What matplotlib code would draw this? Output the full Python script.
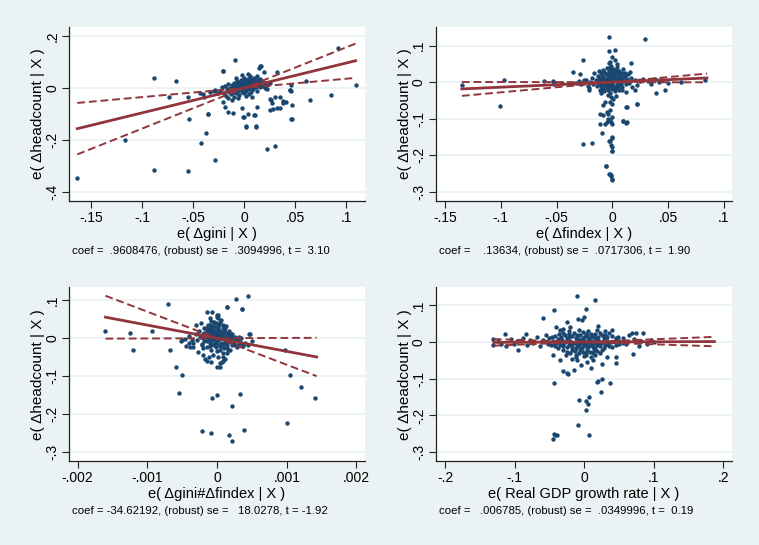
import numpy as np
import matplotlib
matplotlib.use("Agg")
import matplotlib.pyplot as plt

plt.rcParams['font.family'] = ['Liberation Sans', 'DejaVu Sans']

BG = '#eaf2f3'
DOT = '#1a476f'
LINE = '#90353b'

# ---- panel 1: gini ----
gini_x = [-0.1635, -0.117, -0.0884, -0.0884, -0.067, -0.074, -0.055, -0.054, -0.0555, -0.042,
          -0.037, -0.036, -0.029, -0.039, -0.021, -0.009, 0.002, 0.011, 0.010, 0.000,
          0.022, 0.030, 0.015, 0.0196, 0.032, 0.026, 0.028, 0.032, 0.038, 0.041,
          0.045, 0.046, 0.047, 0.047, 0.060, 0.064, 0.085, 0.092, 0.109, 0.046,
          0.012, 0.022, -0.0206, -0.0189, -0.0157, -0.0114, -0.002, -0.001, 0.0039, 0.0105,
          0.0017, 0.0112, 0.0268, 0.0252, 0.035, 0.038, -0.0358, 0.046, 0.0447, 0.030,
          0.025, 0.035, -0.0336, -0.0287, -0.040, -0.043, 0.0164, 0.0144, -0.0212,
          -0.024, -0.022, -0.020, -0.019, -0.018, -0.017, -0.016, -0.015, -0.014, -0.013,
          -0.012, -0.011, -0.010, -0.010, -0.009, -0.008, -0.008, -0.007, -0.006, -0.006,
          -0.005, -0.005, -0.004, -0.004, -0.003, -0.003, -0.002, -0.002, -0.001, -0.001,
          0.000, 0.000, 0.000, 0.001, 0.001, 0.002, 0.002, 0.003, 0.003, 0.004,
          0.004, 0.005, 0.005, 0.006, 0.006, 0.007, 0.007, 0.008, 0.008, 0.009,
          0.009, 0.010, 0.010, 0.011, 0.011, 0.012, 0.012, 0.013, 0.014, 0.015,
          0.015, 0.016, 0.017, 0.018, 0.019, 0.020, 0.022, -0.016, -0.012, -0.006,
          0.002, 0.005, -0.002, 0.004, -0.008, 0.012, -0.026, -0.030, 0.025, 0.008,
          -0.009, -0.007, -0.005, -0.003, -0.001, 0.001, 0.003, 0.005, 0.007, 0.009,
          0.011, 0.013, -0.011, -0.013, -0.015, -0.007, -0.004, 0.000, 0.002, 0.004,
          0.006, 0.008, 0.010, 0.012, 0.014, 0.016, -0.002, 0.000, 0.002, 0.004,
          0.006, 0.008, -0.012, -0.008, -0.006, -0.010, 0.001, 0.003, 0.007, 0.011]
gini_y = [-0.347, -0.2016, 0.040, -0.317, 0.027, -0.036, -0.036, -0.121, -0.320, -0.212,
          -0.172, -0.099, -0.279, -0.035, 0.065, 0.107, -0.148, -0.148, -0.103, -0.114,
          -0.234, -0.223, 0.086, 0.062, 0.062, -0.047, -0.083, -0.076, -0.050, -0.056,
          -0.009, -0.012, -0.067, -0.118, 0.026, -0.047, -0.027, 0.154, 0.010, 0.013,
          -0.073, -0.003, -0.054, -0.073, -0.092, -0.096, -0.079, -0.112, -0.099, -0.105,
          -0.150, -0.150, -0.060, -0.086, -0.079, -0.060, -0.099, -0.118, -0.009, -0.035,
          -0.041, -0.035, -0.015, -0.009, -0.022, -0.019, 0.085, 0.075, 0.065,
          -0.012, 0.002, -0.020, 0.008, -0.030, -0.005, 0.015, -0.015, 0.000, -0.025,
          0.010, -0.008, 0.020, -0.035, -0.002, 0.012, -0.018, 0.028, 0.004, -0.010,
          0.018, -0.028, 0.008, -0.004, 0.032, 0.014, -0.014, 0.002, 0.022, -0.006,
          0.010, 0.040, -0.020, 0.016, 0.000, 0.028, -0.010, 0.006, 0.020, 0.035,
          -0.004, 0.012, 0.024, 0.000, 0.045, 0.018, -0.015, 0.008, 0.030, 0.015,
          -0.005, 0.025, 0.038, 0.004, 0.018, 0.030, -0.012, 0.012, 0.022, 0.035,
          0.005, 0.015, 0.028, 0.008, 0.020, -0.002, 0.012, -0.040, -0.045, -0.040,
          -0.030, -0.025, 0.050, 0.055, 0.040, 0.045, -0.020, -0.010, 0.020, -0.035,
          0.006, -0.002, 0.010, 0.000, 0.008, 0.006, 0.012, 0.004, 0.010, 0.022,
          0.012, 0.026, 0.002, -0.010, -0.004, 0.016, 0.024, 0.018, 0.014, 0.020,
          0.016, 0.024, 0.014, 0.020, 0.010, 0.024, -0.004, -0.008, 0.004, 0.010,
          0.008, 0.002, -0.018, -0.008, 0.012, 0.012, 0.030, 0.030, 0.034, 0.028]

# ---- panel 2: findex ----
findex_x = [-0.135, -0.097, -0.101, -0.061, -0.053, -0.0527, -0.045, -0.038, -0.033, -0.035,
            -0.026, -0.003, 0.029, 0.002, -0.003, 0.017, -0.029, -0.024, -0.021, -0.021,
            -0.026, -0.006, -0.003, -0.0015, -0.0006, -0.0003, 0.000, -0.002, -0.0006,
            0.022, 0.012, 0.010, 0.013, 0.047, 0.039, 0.062, 0.083,
            -0.0066, -0.0021, -0.0005, -0.0081, -0.011, -0.0081, -0.005, -0.0036, -0.0021, -0.0005,
            -0.0036, -0.0021, -0.005, -0.0014, -0.011, -0.0066, -0.0005, 0.0099, 0.012, 0.0129,
            0.0219, -0.009, -0.0005, -0.003, -0.0014, -0.0005, -0.006, -0.002, -0.0014, -0.0005, -0.0185,
            -0.015, -0.014, -0.013, -0.012, -0.011, -0.011, -0.010, -0.009, -0.009, -0.008,
            -0.008, -0.007, -0.007, -0.006, -0.006, -0.005, -0.005, -0.004, -0.004, -0.003,
            -0.003, -0.002, -0.002, -0.002, -0.001, -0.001, 0.000, 0.000, 0.000, 0.001,
            0.001, 0.001, 0.002, 0.002, 0.002, 0.003, 0.003, 0.004, 0.004, 0.005,
            0.005, 0.006, 0.006, 0.007, 0.007, 0.008, 0.009, 0.009, 0.010, 0.011,
            0.012, 0.013, 0.014, 0.015, 0.017, 0.018, -0.017, -0.018, -0.020, 0.020,
            0.022, 0.025, 0.028, 0.032, 0.035, 0.038, 0.042, 0.045, 0.050, -0.022,
            -0.025, -0.028, -0.030, -0.003, 0.000, -0.001, 0.001, -0.004, 0.003, -0.002,
            0.004, -0.012, 0.010, -0.010, 0.012, 0.016, 0.020, -0.016,
            -0.010, -0.008, -0.006, -0.004, -0.002, 0.000, 0.002, 0.004, 0.006, 0.008,
            0.010, -0.009, -0.007, -0.005, -0.003, -0.001, 0.001, 0.003, 0.005, 0.007,
            -0.010, -0.008, -0.006, -0.004, -0.002, 0.000, 0.002, 0.004, 0.006, 0.008,
            -0.001, 0.001, 0.003, -0.003, 0.011, -0.012, 0.013, -0.014, 0.009, -0.011]
findex_y = [-0.009, 0.006, -0.066, 0.002, 0.003, -0.005, -0.002, -0.005, -0.003, 0.027,
            0.061, 0.125, 0.118, 0.089, 0.086, 0.052, 0.023, 0.005, -0.015, -0.021,
            -0.168, -0.230, -0.250, -0.254, -0.265, -0.189, -0.177, -0.162, -0.150,
            -0.061, -0.068, -0.106, -0.109, -0.021, -0.030, 0.000, 0.007,
            -0.054, -0.054, -0.059, -0.063, -0.086, -0.091, -0.082, -0.086, -0.077, -0.095,
            -0.100, -0.104, -0.109, -0.109, -0.113, -0.113, -0.113, -0.106, -0.112, -0.068,
            -0.059, -0.138, -0.153, -0.161, -0.171, -0.189, -0.229, -0.252, -0.256, -0.268, -0.166,
            0.005, -0.010, 0.018, -0.002, 0.010, -0.020, 0.026, 0.002, -0.012, 0.015,
            0.034, -0.005, -0.025, 0.008, 0.022, -0.015, 0.040, 0.000, 0.014, 0.030,
            -0.008, 0.006, -0.030, 0.020, 0.045, -0.002, 0.012, 0.028, -0.018, 0.004,
            0.036, -0.010, 0.018, 0.060, -0.025, 0.008, 0.025, -0.004, 0.042, 0.014,
            -0.016, 0.002, 0.030, 0.020, -0.008, 0.010, -0.022, 0.026, 0.004, 0.016,
            -0.006, 0.008, 0.022, -0.002, 0.012, -0.012, -0.005, 0.012, 0.000, 0.005,
            -0.008, 0.002, 0.010, 0.004, -0.004, 0.008, 0.000, 0.006, -0.002, -0.010,
            0.006, -0.004, 0.002, 0.052, 0.068, -0.040, -0.045, -0.035, -0.038, 0.055,
            0.050, 0.030, 0.035, -0.030, -0.028, 0.028, -0.020, 0.025,
            0.000, 0.006, -0.002, 0.006, 0.012, 0.004, 0.008, 0.002, 0.010, 0.018,
            0.012, 0.018, 0.028, 0.022, 0.016, 0.024, 0.020, 0.014, 0.026, 0.004,
            -0.010, -0.018, -0.010, -0.020, -0.012, -0.006, -0.016, -0.010, -0.020, -0.004,
            0.034, 0.028, 0.034, 0.040, 0.024, 0.008, 0.000, 0.002, -0.014, -0.004]

# ---- panel 3: gini#findex ----
inter_x = [-0.0016, -0.00125, -0.00121, -0.00093, -0.0007, -0.00067, -0.00059, -0.0005, -0.00054, -0.0005,
           -0.00022, -0.00009, -0.00007, 0.0, 0.00017, 0.00022, 0.00039, 0.00021, 0.00033, 0.00027,
           0.00044, 0.00036, 0.00015, 0.00046, 0.00098, 0.00105, 0.00101, 0.0012, 0.00141,
           0.00015, 0.00036, -0.00015, -0.00007, 0.0, 0.00001, -0.00023, -0.0003, -0.0001, -0.00005,
           0.00047, -0.00046, -0.00051, -0.00036, -0.0004, -0.00034, -0.00039, -0.00022, -0.0002, -0.00027,
           -0.0002, -0.00017, -0.00012, -0.00015, -0.00008, 0.0, 0.00004, 0.00007, 0.00009, 0.00014,
           0.00019, 0.00026, 0.00028, 0.00033, 0.00023, 0.00038, 0.00031,
           -0.0003, -0.00028, -0.00026, -0.00024, -0.00022, -0.0002, -0.00019, -0.00018, -0.00016, -0.00015,
           -0.00014, -0.00013, -0.00012, -0.00011, -0.0001, -0.00009, -0.00008, -0.00008, -0.00007, -0.00006,
           -0.00005, -0.00004, -0.00004, -0.00003, -0.00002, -0.00002, -0.00001, 0.0, 0.0, 0.0,
           0.00001, 0.00002, 0.00002, 0.00003, 0.00004, 0.00004, 0.00005, 0.00006, 0.00007, 0.00008,
           0.00008, 0.00009, 0.0001, 0.00011, 0.00012, 0.00013, 0.00014, 0.00015, 0.00016, 0.00017,
           0.00018, 0.0002, 0.00021, 0.00022, 0.00024, 0.00026, 0.00028, 0.0003, 0.00032, 0.00035,
           0.00038, 0.0004, 0.00045, 0.0005, -0.00035, -0.0004, -0.00045, 0.00002, -0.00006, 0.00006,
           -0.0001, 0.00012, 0.00004, 0.00008,
           -0.00012, -0.0001, -0.00008, -0.00006, -0.00004, -0.00002, 0.0, 0.00002, 0.00004, 0.00006,
           0.00008, 0.0001, 0.00012, 0.00014, 0.00016, 0.00018, -0.00014, -0.0001, -0.00006, -0.00002,
           0.0, 0.00004, 0.00006, 0.0001, 0.00014, -0.00008, -0.00004, 0.0, 0.00004, 0.00008,
           -0.00016, 0.00012, 0.0002, 0.00024, -0.0002, -0.00018, 0.00016, -0.00012, 0.00002, 0.00022]
inter_y = [0.019, 0.014, -0.030, 0.018, 0.089, -0.030, -0.075, -0.096, -0.145, -0.006,
           -0.245, -0.250, -0.157, -0.151, -0.255, -0.271, -0.243, -0.178, -0.148, 0.104,
           0.110, 0.077, 0.082, 0.010, -0.030, -0.098, -0.224, -0.129, -0.157,
           0.083, 0.077, 0.069, 0.069, 0.061, 0.052, 0.039, 0.034, 0.034, 0.043,
           0.010, -0.003, -0.007, -0.005, -0.012, -0.023, -0.023, -0.018, -0.027, -0.036,
           -0.045, -0.054, -0.049, -0.061, -0.063, -0.076, -0.076, -0.063, -0.049, -0.040,
           -0.032, -0.018, -0.005, -0.010, -0.001, -0.014, 0.003,
           0.010, -0.005, 0.020, 0.002, -0.015, 0.012, 0.028, -0.008, 0.004, 0.018,
           -0.022, 0.035, 0.000, 0.010, -0.012, 0.024, 0.045, -0.030, 0.006, 0.016,
           -0.004, 0.030, -0.018, 0.008, 0.040, -0.010, 0.020, 0.002, -0.035, 0.055,
           0.014, -0.006, 0.028, 0.036, -0.020, 0.008, 0.018, -0.012, 0.000, 0.026,
           -0.040, 0.010, -0.025, 0.016, -0.004, 0.032, -0.015, 0.006, -0.030, 0.020,
           -0.008, 0.002, -0.018, 0.012, -0.010, 0.004, -0.022, -0.006, -0.014, 0.000,
           -0.020, -0.012, -0.018, -0.008, -0.012, 0.005, -0.020, -0.050, -0.045, 0.048,
           0.052, -0.055, -0.065, -0.060,
           0.004, 0.018, -0.006, 0.010, 0.020, 0.002, 0.012, 0.022, 0.000, 0.014,
           0.006, 0.020, -0.010, 0.004, 0.012, 0.000, -0.008, -0.020, -0.014, -0.024,
           -0.014, -0.030, -0.020, -0.014, -0.022, 0.032, 0.040, 0.030, 0.044, 0.036,
           0.026, 0.028, 0.010, 0.000, 0.000, 0.014, -0.004, 0.024, 0.060, -0.004]

# ---- panel 4: real GDP growth ----
gdp_x = [-0.131, -0.131, -0.114, -0.113, -0.095, -0.084, -0.060, -0.044, -0.010, 0.015,
         0.003, 0.000, -0.009, -0.004, -0.025, -0.040, -0.045, -0.044, -0.030, -0.025,
         -0.023, -0.0072, 0.003, 0.006, 0.007, 0.002, -0.0086, 0.007, -0.0455, -0.042,
         -0.039, -0.0436, 0.0235, 0.037, 0.025, 0.020, 0.018, 0.046, 0.070, 0.068,
         0.075, 0.085, -0.124, -0.120, -0.106, -0.101, -0.097, -0.088, -0.083, -0.078,
         -0.073, -0.068, -0.064, -0.060, -0.055, -0.052, 0.055, 0.060, 0.064, 0.072,
         0.078, 0.082, 0.090, 0.096, 0.100, -0.010, -0.005, 0.004, 0.010, -0.018,
         -0.015, 0.012, 0.026, 0.032, -0.030, -0.035, 0.040, 0.045, -0.020, 0.020,
         -0.030, -0.015, -0.002, 0.010, 0.022, 0.035,
         -0.042, -0.028, -0.018, -0.006, 0.004, 0.014, 0.026, 0.040,
         -0.050, -0.038, -0.025, -0.012, -0.003, 0.006, 0.016, 0.028, 0.045,
         -0.045, -0.032, -0.020, -0.008, 0.000, 0.010, 0.020, 0.032, 0.050,
         -0.040, -0.028, -0.015, -0.005, 0.004, 0.014, 0.024, 0.038, 0.055,
         -0.048, -0.035, -0.022, -0.010, 0.000, 0.008, 0.018, 0.030, 0.045,
         -0.038, -0.025, -0.012, -0.004, 0.006, 0.016, 0.028, 0.040,
         -0.030, -0.018, -0.006, 0.004, 0.014, 0.025,
         -0.020, -0.008, 0.002, 0.012, 0.022, -0.012, 0.000, 0.010,
         -0.035, -0.022, -0.008, 0.006, 0.018, 0.030, -0.026, -0.012, 0.002, 0.016,
         -0.046, -0.034, -0.022, -0.010, 0.000, 0.009, 0.020, 0.033, 0.048,
         -0.052, -0.036, -0.024, -0.012, -0.002, 0.007, 0.017, 0.027, 0.044, 0.060,
         -0.044, -0.031, -0.019, -0.008, 0.002, 0.011, 0.021, 0.034, 0.050,
         -0.042, -0.030, -0.017, -0.007, 0.003, 0.012, 0.023, 0.035,
         -0.025, -0.013, -0.002, 0.008, 0.018,
         -0.036, -0.022, -0.010, 0.002, 0.016, 0.030]
gdp_y = [0.009, -0.009, 0.021, -0.011, -0.023, 0.021, 0.065, 0.086, 0.125, 0.114,
         0.091, 0.068, 0.064, 0.061, 0.055, 0.041, -0.036, -0.112, -0.080, -0.084,
         -0.086, -0.157, -0.162, -0.168, -0.150, -0.186, -0.227, -0.253, -0.264, -0.252,
         -0.252, -0.250, -0.135, -0.112, -0.100, -0.105, -0.109, -0.056, -0.032, 0.025,
         0.024, 0.026, 0.004, -0.006, 0.008, -0.004, 0.002, 0.012, -0.008, 0.005,
         -0.003, 0.015, -0.012, 0.006, 0.018, -0.006, 0.012, -0.005, 0.020, 0.008,
         -0.010, 0.004, -0.004, 0.006, 0.000, -0.050, -0.062, -0.055, -0.070, -0.045,
         -0.075, -0.048, -0.060, -0.042, 0.035, -0.050, 0.032, -0.040, 0.040, 0.045,
         0.026, 0.024, 0.027, 0.023, 0.026, 0.024,
         0.017, 0.019, 0.016, 0.018, 0.020, 0.017, 0.019, 0.016,
         0.011, 0.009, 0.012, 0.010, 0.008, 0.011, 0.009, 0.012, 0.010,
         0.004, 0.005, 0.003, 0.005, 0.004, 0.003, 0.005, 0.004, 0.003,
         -0.002, -0.001, -0.003, -0.002, -0.001, -0.003, -0.002, -0.001, -0.002,
         -0.008, -0.007, -0.009, -0.008, -0.007, -0.009, -0.008, -0.007, -0.009,
         -0.015, -0.014, -0.016, -0.015, -0.014, -0.016, -0.015, -0.014,
         -0.022, -0.021, -0.023, -0.022, -0.021, -0.023,
         -0.030, -0.029, -0.031, -0.030, -0.029, -0.040, -0.039, -0.041,
         0.032, 0.031, 0.033, 0.031, 0.032, 0.030, -0.036, -0.035, -0.034, -0.036,
         0.014, 0.015, 0.013, 0.014, 0.015, 0.013, 0.014, 0.015, 0.013,
         0.001, 0.000, 0.002, 0.001, 0.000, 0.002, 0.001, 0.000, 0.002, 0.001,
         -0.005, -0.004, -0.006, -0.005, -0.004, -0.006, -0.005, -0.004, -0.006,
         -0.012, -0.011, -0.013, -0.012, -0.011, -0.013, -0.012, -0.011,
         -0.026, -0.025, -0.027, -0.026, -0.025,
         0.021, 0.022, 0.020, 0.021, 0.022, 0.020]

# fitted slopes (coef, lower, upper) and x-extent of the fit lines
panels = [
    dict(x=gini_x, y=gini_y, slopes=[0.9608, 0.354, 1.567], xr=[-0.1635, 0.109],
         xlab='e( \u0394gini | X )',
         note='coef =  .9608476, (robust) se =  .3094996, t =  3.10',
         xt=[-0.15, -0.1, -0.05, 0, 0.05, 0.1], xtl=['-.15', '-.1', '-.05', '0', '.05', '.1'],
         yt=[-0.4, -0.2, 0, 0.2], ytl=['-.4', '-.2', '0', '.2'],
         xl=(-0.1716, 0.1182), yl=(-0.4358, 0.2347), px=(69, 365), py=(27, 201)),
    dict(x=findex_x, y=findex_y, slopes=[0.13634, -0.0042, 0.277], xr=[-0.135, 0.085],
         xlab='e( \u0394findex | X )',
         note='coef =    .13634, (robust) se =  .0717306, t =  1.90',
         xt=[-0.15, -0.1, -0.05, 0, 0.05, 0.1], xtl=['-.15', '-.1', '-.05', '0', '.05', '.1'],
         yt=[-0.3, -0.2, -0.1, 0, 0.1], ytl=['-.3', '-.2', '-.1', '0', '.1'],
         xl=(-0.1585, 0.1072), yl=(-0.325, 0.151), px=(435.7, 731.7), py=(27, 201)),
    dict(x=inter_x, y=inter_y, slopes=[-34.62, -69.95, 0.71], xr=[-0.0016, 0.00143],
         xlab='e( \u0394gini#\u0394findex | X )',
         note='coef = -34.62192, (robust) se =   18.0278, t = -1.92',
         xt=[-0.002, -0.001, 0, 0.001, 0.002], xtl=['-.002', '-.001', '0', '.001', '.002'],
         yt=[-0.3, -0.2, -0.1, 0, 0.1], ytl=['-.3', '-.2', '-.1', '0', '.1'],
         xl=(-0.002123, 0.002123), yl=(-0.3245, 0.135), px=(69, 365), py=(287, 461.3)),
    dict(x=gdp_x, y=gdp_y, slopes=[0.006785, -0.0618, 0.0754], xr=[-0.13, 0.187],
         xlab='e( Real GDP growth rate | X )',
         note='coef =   .006785, (robust) se =  .0349996, t =  0.19',
         xt=[-0.2, -0.1, 0, 0.1, 0.2], xtl=['-.2', '-.1', '0', '.1', '.2'],
         yt=[-0.3, -0.2, -0.1, 0, 0.1], ytl=['-.3', '-.2', '-.1', '0', '.1'],
         xl=(-0.2135, 0.2118), yl=(-0.325, 0.150), px=(435.7, 731.7), py=(287, 461.3)),
]

W, H = 759, 545
fig = plt.figure(figsize=(W / 100, H / 100), dpi=100)
fig.patch.set_facecolor(BG)

for p in panels:
    x0, x1 = p['px']
    y0, y1 = p['py']
    ax = fig.add_axes([x0 / W, 1 - y1 / H, (x1 - x0) / W, (y1 - y0) / H])
    ax.set_facecolor('white')
    for s in ['top', 'right']:
        ax.spines[s].set_visible(False)
    for s in ['left', 'bottom']:
        ax.spines[s].set_color('#222222')
        ax.spines[s].set_linewidth(0.9)

    for yv in p['yt']:
        ax.axhline(yv, color=BG, lw=1.3, zorder=0)

    ax.scatter(p['x'], p['y'], s=10, color=DOT, linewidths=0, zorder=2)

    xr = np.array(p['xr'])
    b, lo, hi = p['slopes']
    ax.plot(xr, b * xr, color=LINE, lw=2.0, zorder=3)
    ax.plot(xr, lo * xr, color=LINE, lw=1.4, ls=(0, (4, 2)), zorder=3)
    ax.plot(xr, hi * xr, color=LINE, lw=1.4, ls=(0, (4, 2)), zorder=3)

    ax.set_xlim(*p['xl'])
    ax.set_ylim(*p['yl'])
    ax.set_xticks(p['xt'])
    ax.set_xticklabels(p['xtl'])
    ax.set_yticks(p['yt'])
    ax.set_yticklabels(p['ytl'], rotation=90, va='center')
    ax.tick_params(direction='out', length=5, width=0.8, color='#222222',
                   labelsize=10, pad=2, labelcolor='black')

    cx = (x0 + x1) / 2
    fig.text(cx / W, 1 - (y1 + 33) / H, p['xlab'], ha='center', va='center', fontsize=10.5)
    fig.text((x0 - 31) / W, 1 - ((y0 + y1) / 2) / H, 'e( \u0394headcount | X )',
             rotation=90, ha='center', va='center', fontsize=11)
    fig.text((x0 + 3) / W, 1 - (y1 + 50) / H, p['note'], ha='left', va='center', fontsize=8.2)

fig.savefig('out.png', dpi=100, facecolor=BG)
